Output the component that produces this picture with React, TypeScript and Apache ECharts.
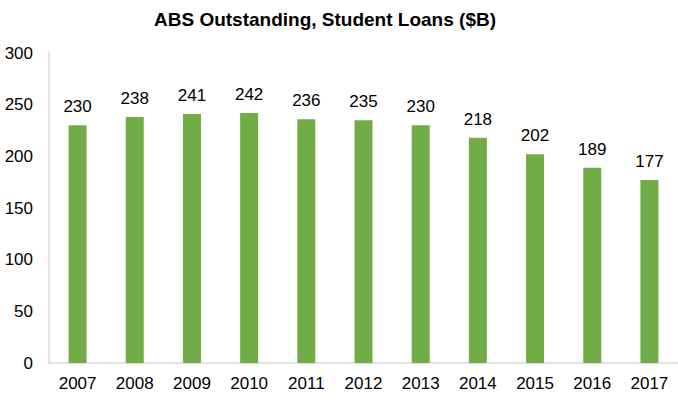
import React, { useEffect, useRef } from "react";
import * as echarts from "echarts";

const years = ["2007", "2008", "2009", "2010", "2011", "2012", "2013", "2014", "2015", "2016", "2017"];
const values = [230, 238, 241, 242, 236, 235, 230, 218, 202, 189, 177];
const titleText = "ABS Outstanding, Student Loans ($B)";

export default function App() {
  const ref = useRef<HTMLDivElement>(null);
  useEffect(() => {
    if (!ref.current) return;
    const chart = echarts.init(ref.current, null, { renderer: "svg" });
    const font = "Liberation Sans, Arial";
    chart.setOption({
      animation: false,
      title: {
        text: titleText,
        left: 320,
        textAlign: "center",
        top: 5,
        textStyle: { fontFamily: font, fontWeight: "bold", fontSize: 19, color: "#000" },
      },
      grid: { left: 49, right: 0, top: 53, bottom: 40 },
      xAxis: {
        type: "category",
        data: years,
        axisLine: { lineStyle: { color: "#d9d9d9", width: 1.5 } },
        axisTick: { show: false },
        axisLabel: { color: "#000", fontSize: 17, fontFamily: font, margin: 12 },
      },
      yAxis: {
        type: "value",
        min: 0,
        max: 300,
        interval: 50,
        axisLine: { show: true, lineStyle: { color: "#d9d9d9", width: 1.5 } },
        axisTick: { show: false },
        splitLine: { show: false },
        axisLabel: { color: "#000", fontSize: 17, fontFamily: font, margin: 16 },
      },
      series: [
        {
          type: "bar",
          data: values,
          barWidth: 18,
          itemStyle: { color: "#70ad47" },
          label: {
            show: true,
            position: "top",
            distance: 10,
            color: "#000",
            fontSize: 17,
            fontFamily: font,
          },
        },
      ],
    });
    return () => chart.dispose();
  }, []);
  return <div ref={ref} style={{ width: 678, height: 403, position: "absolute", left: 0, top: 0 }} />;
}
